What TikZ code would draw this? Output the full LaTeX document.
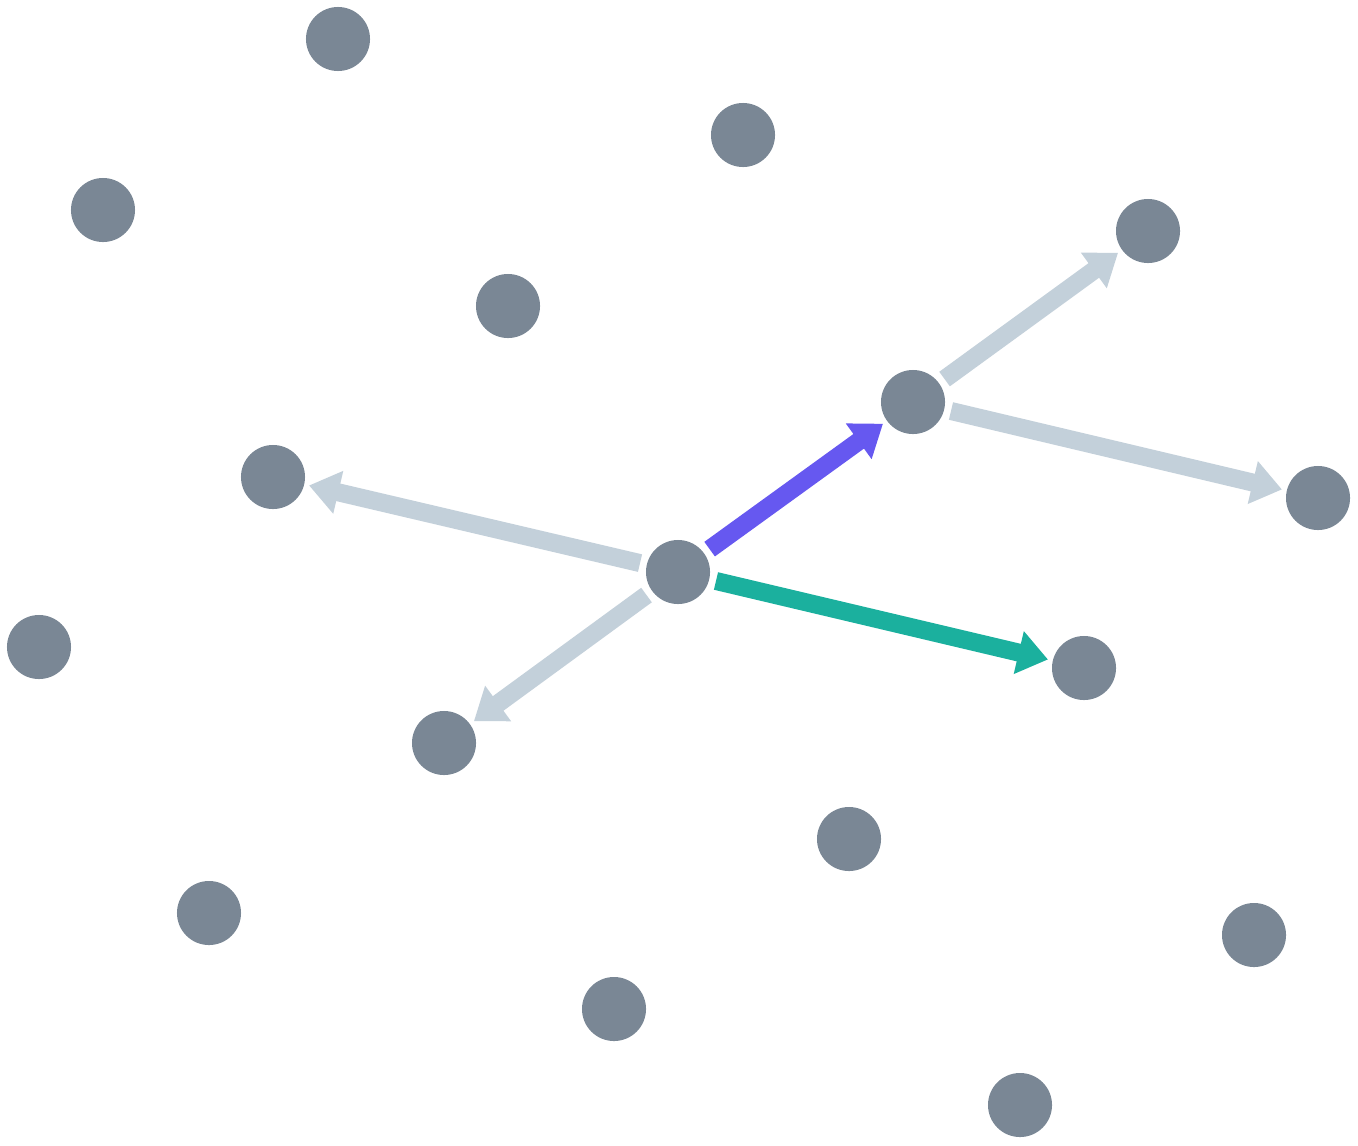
\documentclass[tikz,border=0pt]{standalone}
\usetikzlibrary{arrows.meta}
\definecolor{dotgray}{HTML}{7A8795}
\definecolor{edgegray}{HTML}{C3D0DA}
\definecolor{edgepurple}{HTML}{6658F0}
\definecolor{edgeteal}{HTML}{1BB09E}
\tikzset{
	dot/.style = { circle, fill = dotgray, minimum size = 0.64cm, inner sep = 0pt, outer sep = 0.05cm },
	flow/.style = { line width = 0.18cm, -{Triangle[width = 0.42cm, length = 0.3cm]}, shorten <= 0.02cm }
}
\begin{document}
\begin{tikzpicture}[x = 0.01cm, y = -0.01cm]
	\useasboundingbox ( 0, 0 ) rectangle ( 1358, 1145 );
	% точки
	\node [dot] (n1) at ( 338, 39 ) {};
	\node [dot] (n2) at ( 743, 135 ) {};
	\node [dot] (n3) at ( 103, 210 ) {};
	\node [dot] (n4) at ( 508, 306 ) {};
	\node [dot] (n5) at ( 1148, 231 ) {};
	\node [dot] (n6) at ( 913, 402 ) {};
	\node [dot] (n7) at ( 273, 477 ) {};
	\node [dot] (n8) at ( 1318, 498 ) {};
	\node [dot] (c) at ( 678, 572 ) {};
	\node [dot] (n10) at ( 39, 647 ) {};
	\node [dot] (n11) at ( 1084, 668 ) {};
	\node [dot] (n12) at ( 444, 743 ) {};
	\node [dot] (n13) at ( 849, 839 ) {};
	\node [dot] (n14) at ( 209, 913 ) {};
	\node [dot] (n15) at ( 1254, 935 ) {};
	\node [dot] (n16) at ( 614, 1009 ) {};
	\node [dot] (n17) at ( 1020, 1105 ) {};

	% стрелки
	\draw [flow, edgegray] (c) -- (n7);
	\draw [flow, edgegray] (c) -- (n12);
	\draw [flow, edgegray] (n6) -- (n5);
	\draw [flow, edgegray] (n6) -- (n8);
	\draw [flow, edgepurple] (c) -- (n6);
	\draw [flow, edgeteal] (c) -- (n11);
\end{tikzpicture}
\end{document}
